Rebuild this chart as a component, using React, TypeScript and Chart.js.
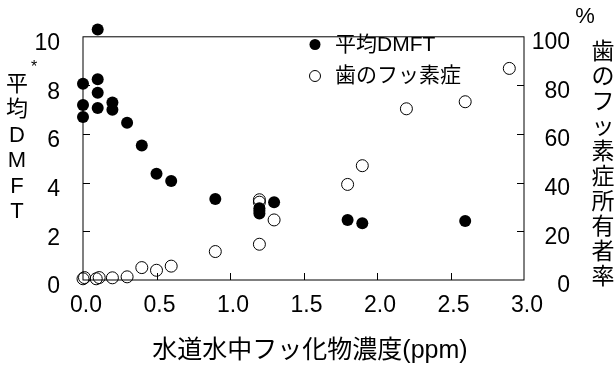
import React, { useEffect, useRef } from "react";
import { Chart, registerables } from "chart.js";

Chart.register(...registerables);

// ---- data ----
const dmftX = [0, 0, 0, 0.1, 0.1, 0.1, 0.1, 0.2, 0.2, 0.3, 0.4, 0.5, 0.6, 0.9, 1.2, 1.2, 1.2, 1.3, 1.8, 1.9, 2.6];
const dmftY = [8.07, 7.2, 6.7, 10.3, 8.25, 7.7, 7.07, 7.3, 7.0, 6.47, 5.53, 4.37, 4.07, 3.33, 2.95, 2.85, 2.73, 3.2, 2.47, 2.33, 2.43];

const fluorX = [0, 0.01, 0.09, 0.11, 0.2, 0.3, 0.4, 0.5, 0.6, 0.9, 1.2, 1.2, 1.2, 1.3, 1.8, 1.9, 2.2, 2.6, 2.9];
const fluorY = [0.5, 1.0, 0.5, 1.0, 0.9, 1.3, 5.1, 4.0, 5.7, 11.7, 14.7, 33, 32, 24.7, 39.3, 47, 70.4, 73.3, 87];

const seriesNames = ["平均DMFT", "歯のフッ素症"];
const xTitle = "水道水中フッ化物濃度(ppm)";
const leftTitleChars = ["平", "均", "D", "M", "F", "T"];
const rightTitleChars = ["歯", "の", "フ", "ッ", "素", "症", "所", "有", "者", "率"];
const rightUnit = "%";

const FONT = '"Liberation Sans", "Noto Sans CJK JP", sans-serif';

const decorPlugin = {
  id: "decor",
  afterDatasetsDraw(chart: any) {
    // draw points that lie outside the chart area (library skips them)
    const { ctx, chartArea: a } = chart;
    chart.data.datasets.forEach((_: any, di: number) => {
      const meta = chart.getDatasetMeta(di);
      meta.data.forEach((el: any) => {
        const r = el.options.radius;
        const inside =
          el.x > a.left - r && el.x < a.right + r && el.y > a.top - r && el.y < a.bottom + r;
        if (!inside) el.draw(ctx);
      });
    });
  },
  afterDraw(chart: any) {
    const { ctx, chartArea: a, scales } = chart;
    ctx.save();
    ctx.strokeStyle = "#000";
    ctx.lineWidth = 1;
    // frame
    ctx.strokeRect(a.left, a.top, a.right - a.left, a.bottom - a.top);
    // inward ticks
    const TL = 7;
    ctx.beginPath();
    scales.x.ticks.forEach((t: any) => {
      if (t.value <= scales.x.min || t.value >= scales.x.max) return;
      const px = Math.round(scales.x.getPixelForValue(t.value)) + 0.5;
      ctx.moveTo(px, a.bottom);
      ctx.lineTo(px, a.bottom - TL);
    });
    scales.y.ticks.forEach((t: any) => {
      if (t.value <= scales.y.min || t.value >= scales.y.max) return;
      const py = Math.round(scales.y.getPixelForValue(t.value)) + 0.5;
      ctx.moveTo(a.left, py);
      ctx.lineTo(a.left + TL, py);
    });
    scales.y1.ticks.forEach((t: any) => {
      if (t.value <= scales.y1.min || t.value >= scales.y1.max) return;
      const py = Math.round(scales.y1.getPixelForValue(t.value)) + 0.5;
      ctx.moveTo(a.right, py);
      ctx.lineTo(a.right - TL, py);
    });
    ctx.stroke();

    ctx.fillStyle = "#000";
    ctx.textAlign = "center";
    ctx.textBaseline = "middle";
    // left title (vertical)
    ctx.font = `22px ${FONT}`;
    leftTitleChars.forEach((c, i) => {
      ctx.fillText(c, 17, 85 + i * 25.4);
    });
    ctx.font = `16px ${FONT}`;
    ctx.fillText("*", 34, 68);
    // right title
    ctx.font = `22px ${FONT}`;
    ctx.fillText(rightUnit, 585, 17);
    ctx.font = `23px ${FONT}`;
    rightTitleChars.forEach((c, i) => {
      ctx.fillText(c, 603, 53 + i * 25);
    });
    // x title
    ctx.font = `25px ${FONT}`;
    ctx.fillText(xTitle, 310, 351);

    // legend
    ctx.textAlign = "left";
    ctx.font = `21px ${FONT}`;
    ctx.beginPath();
    ctx.arc(315, 44.5, 5.5, 0, Math.PI * 2);
    ctx.fill();
    ctx.fillText(seriesNames[0], 335, 45);
    ctx.beginPath();
    ctx.arc(315, 76, 5.5, 0, Math.PI * 2);
    ctx.stroke();
    ctx.fillText(seriesNames[1], 335, 76);
    ctx.restore();
  },
};

export default function App() {
  const ref = useRef<HTMLCanvasElement | null>(null);
  useEffect(() => {
    document.body.style.margin = "0";
    const canvas = ref.current!;
    const chart = new Chart(canvas, {
      type: "scatter",
      data: {
        datasets: [
          {
            label: seriesNames[0],
            data: dmftX.map((x, i) => ({ x, y: dmftY[i] })),
            yAxisID: "y",
            pointRadius: 6,
            pointBackgroundColor: "#000",
            pointBorderColor: "#000",
            pointBorderWidth: 0,
            clip: false,
          },
          {
            label: seriesNames[1],
            data: fluorX.map((x, i) => ({ x, y: fluorY[i] })),
            yAxisID: "y1",
            pointRadius: 6,
            pointBackgroundColor: "rgba(0,0,0,0)",
            pointBorderColor: "#000",
            pointBorderWidth: 1,
            clip: false,
          },
        ],
      },
      options: {
        animation: false,
        responsive: false,
        layout: { padding: { top: 30, right: 46, left: 0, bottom: 0 } },
        plugins: { legend: { display: false }, tooltip: { enabled: false } },
        scales: {
          x: {
            type: "linear",
            min: 0,
            max: 3,
            grid: { display: false, drawTicks: false },
            border: { display: false },
            ticks: {
              stepSize: 0.5,
              autoSkip: false,
              maxRotation: 0,
              padding: 12,
              labelOffset: 3,
              color: "#000",
              font: { size: 23, family: FONT },
              callback: (v: any) => Number(v).toFixed(1),
            },
            afterFit: (s: any) => {
              s.height = 88;
            },
          },
          y: {
            type: "linear",
            position: "left",
            min: 0,
            max: 10,
            grid: { display: false, drawTicks: false },
            border: { display: false },
            ticks: {
              stepSize: 2,
              padding: 23,
              labelOffset: 7,
              color: "#000",
              font: { size: 23, family: FONT },
            },
            afterFit: (s: any) => {
              s.width = 83;
            },
          },
          y1: {
            type: "linear",
            position: "right",
            min: 0,
            max: 100,
            grid: { display: false, drawTicks: false },
            border: { display: false },
            ticks: {
              stepSize: 20,
              padding: 8,
              crossAlign: "far",
              labelOffset: 6,
              color: "#000",
              font: { size: 23, family: FONT },
            },
            afterFit: (s: any) => {
              s.width = 46;
            },
          },
        },
      },
      plugins: [decorPlugin],
    } as any);
    return () => chart.destroy();
  }, []);
  return (
    <div style={{ position: "fixed", left: 0, top: 0, width: 616, height: 368, background: "#fff" }}>
      <canvas ref={ref} width={616} height={368} />
    </div>
  );
}
